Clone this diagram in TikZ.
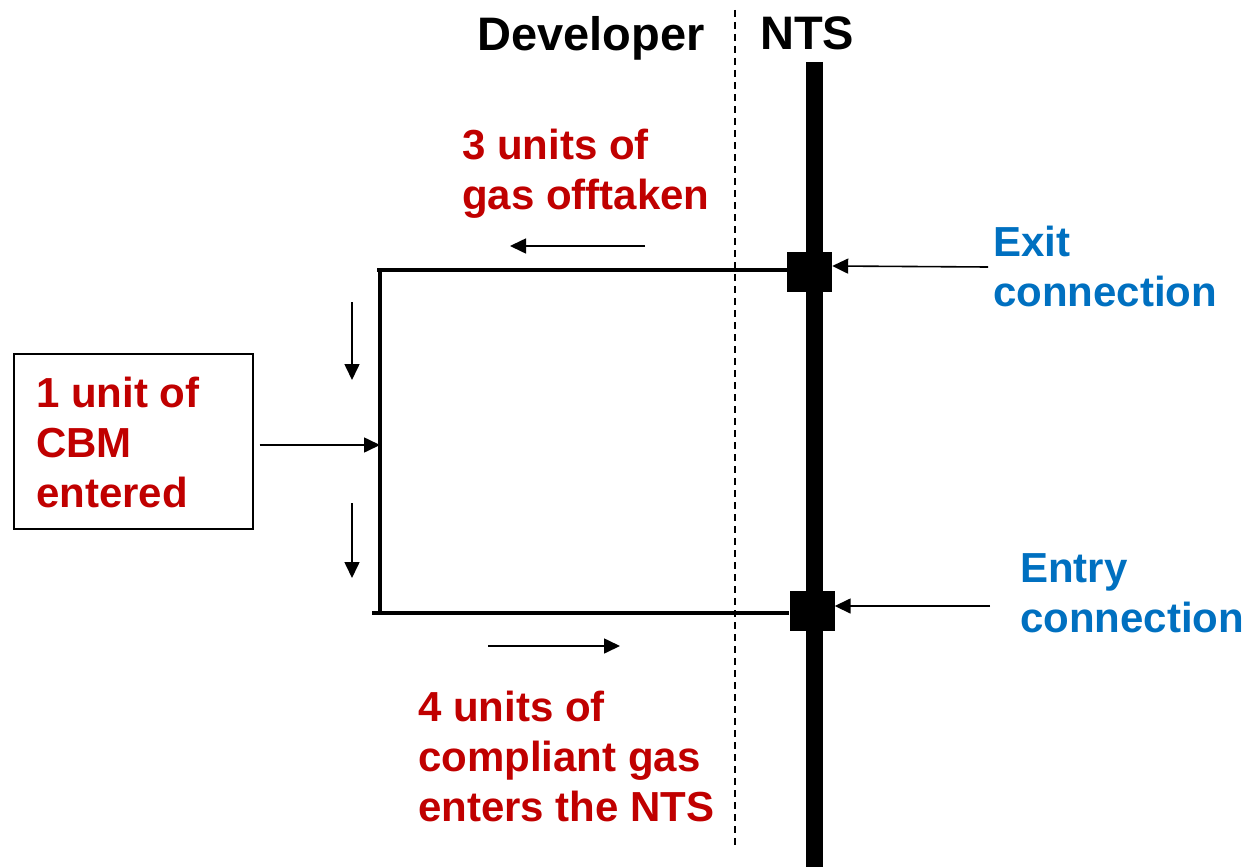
\documentclass[tikz,border=0pt]{standalone}
\usepackage{fontspec}
\setmainfont{Liberation Sans}
\usetikzlibrary{arrows.meta}
\definecolor{lred}{HTML}{C00000}
\definecolor{lblue}{HTML}{0070C0}
\begin{document}
\begin{tikzpicture}[x=1pt,y=-1pt,
  lbl/.style={anchor=north west,inner sep=0pt,align=left,font=\fontsize{42}{50}\selectfont\bfseries},
  hdr/.style={anchor=north west,inner sep=0pt,font=\fontsize{47}{56}\selectfont\bfseries},
  pipe/.style={line width=3.5pt},
  flowarr/.style={line width=1.6pt,-{Triangle[length=16pt,width=15pt]}},
  sq/.style={fill=black,draw=none,minimum width=45pt,minimum height=40pt,inner sep=0pt}]
\useasboundingbox (0,0) rectangle (1247,867);
% NTS main line and dashed divider
\coordinate (ntsT) at (814,62);
\coordinate (ntsB) at (814,867);
\draw[line width=17pt] (ntsT) -- (ntsB);
\coordinate (dT) at (735,10);
\coordinate (dB) at (735,845);
\draw[line width=1.2pt,dash pattern=on 7pt off 5pt] (dT) -- (dB);
% headers
\node[hdr] (dev) at (477,16) {Developer};
\node[hdr] (nts) at (760,16) {NTS};
% pipework
\node[sq] (exit) at (809.5,272) {};
\node[sq] (entry) at (812,610.5) {};
\coordinate (tl) at (380,270);
\coordinate (bl) at (380,613);
\coordinate (tl0) at (377,270);
\coordinate (bl0) at (372,613);
\draw[pipe] (tl0) -- (exit.west |- tl);
\draw[pipe] (tl) -- (bl);
\draw[pipe] (bl0) -- (entry.west |- bl);
% labels
\node[lbl,text=lred] (off) at (462,129) {3 units of\\gas offtaken};
\node[lbl,text=lblue] (exl) at (993,226) {Exit\\connection};
\node[lbl,text=lblue] (enl) at (1020,553) {Entry\\connection};
\node[lbl,text=lred] (ent) at (418,691) {4 units of\\compliant gas\\enters the NTS};
\node[draw,line width=1.3pt,minimum width=239pt,minimum height=175pt,inner sep=0pt] (cbm) at (133.5,441.5) {};
\node[lbl,text=lred] (cbmt) at (36,377) {1 unit of\\CBM\\entered};
% arrows
\coordinate (exs) at (988,267);
\coordinate (ens) at (990,606);
\draw[flowarr] (exs) -- (exit.east |- 0,266);
\draw[flowarr] (ens) -- (entry.east |- 0,606);
\coordinate (a1s) at (645,246);
\coordinate (a1e) at (510,246);
\draw[flowarr] (a1s) -- (a1e);
\coordinate (a2s) at (488,646);
\coordinate (a2e) at (620,646);
\draw[flowarr] (a2s) -- (a2e);
\coordinate (d1s) at (352,302);
\coordinate (d1e) at (352,380);
\draw[flowarr] (d1s) -- (d1e);
\coordinate (d2s) at (352,503);
\coordinate (d2e) at (352,578);
\draw[flowarr] (d2s) -- (d2e);
\draw[flowarr] (cbm.east |- 0,445) ++(6,0) -- (tl |- 0,445);
\end{tikzpicture}
\end{document}
